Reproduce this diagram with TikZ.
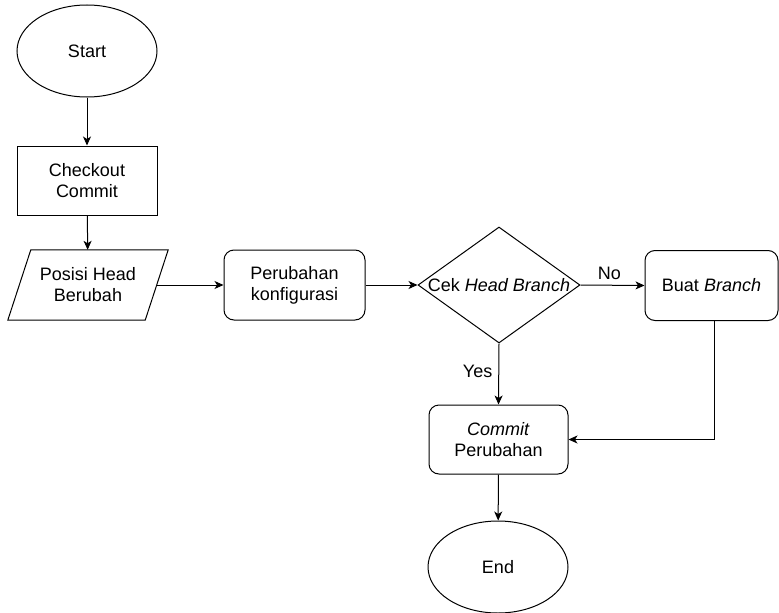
\documentclass[tikz,border=0pt]{standalone}
\usepackage{fontspec}
\setmainfont{Liberation Sans}
\usetikzlibrary{shapes.geometric,arrows.meta}
\begin{document}
\begin{tikzpicture}[x=1pt,y=-1pt,
  every node/.style={font=\fontsize{18}{21}\selectfont, align=center, inner sep=0pt},
  box/.style={draw, line width=1pt, rectangle, minimum width=#1, minimum height=69pt},
  rbox/.style={draw, line width=1pt, rectangle, rounded corners=10pt, minimum width=#1, minimum height=70pt},
  oval/.style={draw, line width=1pt, ellipse, minimum width=140pt, minimum height=92pt},
  flow/.style={line width=1pt, -{Stealth[length=9pt,width=8pt,inset=2.5pt]}},
  lbl/.style={font=\fontsize{18}{21}\selectfont}
]
\useasboundingbox (0,0) rectangle (779,613);
\node[oval] (start) at (87,51) {Start};
\node[box=140pt] (chk) at (87,180.5) {Checkout\\Commit};
\node[minimum width=137pt, minimum height=70pt] (pos) at (88,285) {Posisi Head\\Berubah};
\draw[line width=1pt] ([xshift=11.5pt]pos.north west) -- ([xshift=11.5pt]pos.north east)
  -- ([xshift=-11.5pt]pos.south east) -- ([xshift=-11.5pt]pos.south west) -- cycle;
\node[rbox=141pt] (ubah) at (294.5,285) {Perubahan\\konfigurasi};
\node[draw, line width=1pt, diamond, minimum width=162pt, minimum height=116pt] (cek) at (499,285)
  {\makebox[0pt]{Cek \textit{Head Branch}}};
\node[rbox=133pt] (buat) at (711.5,285.5) {Buat \textit{Branch}};
\node[rbox=139pt, minimum height=69pt] (cmt) at (498.5,439.5) {\textit{Commit}\\Perubahan};
\node[oval] (end) at (498,567) {End};

\draw[flow] (start) -- (chk);
\draw[flow] (chk) -- (pos);
\draw[flow] (pos.east) -- (ubah.west);
\draw[flow] (ubah) -- (cek.west);
\draw[flow] (cek.east) -- node[lbl, pos=0.45, above=5pt] {No} (buat.west);
\draw[flow] (cek.south) -- node[lbl, pos=0.45, left=6pt] {Yes} (cmt.north);
\draw[flow] ([xshift=2.5pt]buat.south) |- (cmt.east);
\draw[flow] (cmt) -- (end);
\end{tikzpicture}
\end{document}
